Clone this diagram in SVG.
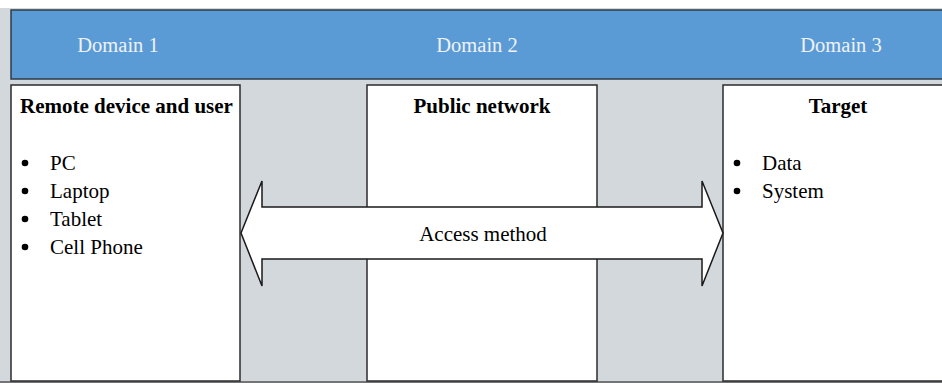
<svg xmlns="http://www.w3.org/2000/svg" width="942" height="383" viewBox="0 0 942 383">
  <style>
    .box { fill: #ffffff; stroke: #2b2b2b; stroke-width: 1.5; }
    .dom { font-family: "Liberation Serif", "Times New Roman", serif; font-size: 20.5px; fill: #eef2f8; text-anchor: middle; }
    .title { font-family: "Liberation Serif", "Times New Roman", serif; font-size: 21px; font-weight: bold; fill: #000; }
    .item { font-family: "Liberation Serif", "Times New Roman", serif; font-size: 21px; fill: #000; }
    .dot { fill: #000; }
  </style>
  <!-- background -->
  <rect x="0" y="0" width="942" height="383" fill="#ffffff"/>
  <rect x="0" y="8" width="942" height="375" fill="#d3d8dd"/>
  <line x1="0" y1="382" x2="942" y2="382" stroke="#555" stroke-width="1.5"/>
  <!-- domain band -->
  <g id="domains">
    <rect x="11" y="10" width="935" height="69" fill="#5b9bd5" stroke="#2f3a45" stroke-width="1.5"/>
    <text class="dom" x="118" y="52">Domain 1</text>
    <text class="dom" x="477" y="52">Domain 2</text>
    <text class="dom" x="841" y="52">Domain 3</text>
  </g>
  <g id="remote">
    <rect class="box" x="11" y="85" width="229" height="296"/>
    <text class="title" x="20" y="113">Remote device and user</text>
    <circle class="dot" cx="25" cy="163" r="3.3"/><text class="item" x="50" y="170">PC</text>
    <circle class="dot" cx="25" cy="191" r="3.3"/><text class="item" x="50" y="198">Laptop</text>
    <circle class="dot" cx="25" cy="219" r="3.3"/><text class="item" x="50" y="226">Tablet</text>
    <circle class="dot" cx="25" cy="247" r="3.3"/><text class="item" x="50" y="254">Cell Phone</text>
  </g>
  <g id="public">
    <rect class="box" x="367" y="85" width="230" height="296"/>
    <text class="title" x="482" y="113" text-anchor="middle">Public network</text>
  </g>
  <g id="target">
    <rect class="box" x="723" y="85" width="225" height="296"/>
    <text class="title" x="838" y="113" text-anchor="middle">Target</text>
    <circle class="dot" cx="737" cy="163" r="3.3"/><text class="item" x="762" y="170">Data</text>
    <circle class="dot" cx="737" cy="191" r="3.3"/><text class="item" x="762" y="198">System</text>
  </g>
  <g id="connectors">
    <path d="M241,233 L262,181 L262,207 L702,207 L702,181 L723,233 L702,286 L702,259 L262,259 L262,286 Z" fill="#ffffff" stroke="#1a1a1a" stroke-width="1.5" stroke-linejoin="miter"/>
    <text class="item" x="483" y="241" text-anchor="middle">Access method</text>
  </g>
</svg>
